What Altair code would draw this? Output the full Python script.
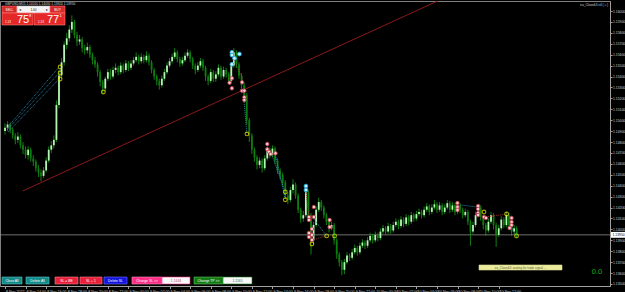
import json
import altair as alt
import pandas as pd

# ---------------- data ----------------
# GBPUSD M15 candles from 8 Nov 2022 12:00, prices in pips above 1.1300
BASE = 1.1300
first_open_pips = 190
close_pips = [193,196,191,186,182,185,177,173,168,173,
              165,162,156,152,149,154,163,173,177,182,
              214,241,253,269,275,283,290,278,272,274,
              266,264,267,260,255,251,244,235,229,238,
              244,240,246,248,244,250,246,252,248,252,
              255,258,254,258,255,259,253,246,240,236,
              232,238,244,250,254,258,262,256,252,255,
              259,262,256,250,246,250,254,248,240,236,
              244,238,242,248,240,246,242,236,250,262,
              251,241,232,223,200,186,173,166,159,163,
              156,165,173,168,174,163,154,150,143,131,
              127,136,141,131,118,110,113,134,113,90,
              104,118,125,120,113,107,101,104,90,77,
              70,63,70,76,74,79,83,79,85,88,
              85,90,94,90,95,92,98,101,98,103,
              99,104,107,103,109,105,111,107,113,110,
              114,116,113,118,121,116,120,123,118,122,
              116,120,124,118,122,116,122,118,113,116,
              107,98,104,113,120,111,104,99,107,113,
              104,95,101,109,104,113,104,98,101,95]
high_pips = [197,199,198,193,188,189,187,180,176,176,
             175,168,164,159,155,157,166,176,181,186,
             218,246,257,272,280,287,296,292,281,278,
             276,269,271,269,262,258,253,246,237,240,
             247,247,249,252,250,253,252,255,254,255,
             258,262,260,261,260,263,261,255,248,242,
             238,241,247,253,257,261,266,264,258,258,
             262,265,264,258,252,253,257,256,250,242,
             247,246,245,251,250,249,248,244,253,266,
             264,253,243,234,225,202,188,175,168,166,
             165,168,176,175,177,176,165,156,152,145,
             134,139,146,143,133,120,117,137,136,115,
             107,121,129,127,122,115,109,107,106,92,
             79,72,73,79,78,82,86,85,88,91,
             90,93,97,96,98,97,101,104,103,106,
             105,107,110,109,112,111,114,113,116,115,
             117,119,118,121,124,123,123,127,125,125,
             124,123,127,126,125,124,125,124,120,119,
             118,109,107,116,123,122,113,106,110,116,
             115,106,104,112,111,116,115,106,104,103]
low_pips = [187,190,188,183,178,179,174,169,165,164,
            162,158,153,148,144,147,152,161,170,174,
            180,211,238,250,265,272,280,275,268,269,
            262,260,261,257,251,248,240,231,224,226,
            236,237,238,243,241,242,243,244,245,246,
            250,253,251,252,252,253,250,243,237,232,
            228,230,236,242,248,252,256,253,249,250,
            253,257,253,247,242,244,248,245,236,232,
            234,235,235,240,237,238,239,233,234,248,
            248,238,229,219,196,180,169,162,155,156,
            152,154,163,165,166,160,151,146,140,128,
            123,125,133,128,115,106,107,111,110,77,
            86,102,116,117,110,104,97,99,86,73,
            66,58,59,68,71,72,77,76,77,83,
            82,83,88,87,88,89,90,96,95,96,
            96,97,102,100,101,102,103,104,105,107,
            108,112,110,111,116,113,114,118,115,116,
            113,114,118,115,116,113,114,115,110,111,
            104,85,96,102,111,108,100,94,97,105,
            100,84,93,99,101,102,100,94,96,92]

time_ticks = [0,2,4,6,8,10,12,14,16,18,20,22,24,26,28,30,32,34,36,38,40,42,44,46,48]
time_labels = ['8 Nov 2022','8 Nov 14:00','8 Nov 16:00','8 Nov 18:00','8 Nov 20:00',
               '8 Nov 22:00','9 Nov 00:00','9 Nov 02:00','9 Nov 04:00','9 Nov 06:00',
               '9 Nov 08:00','9 Nov 10:00','9 Nov 12:00','9 Nov 14:00','9 Nov 16:00',
               '9 Nov 18:00','9 Nov 20:00','9 Nov 22:00','10 Nov 00:00','10 Nov 02:00',
               '10 Nov 04:00','10 Nov 06:00','10 Nov 08:00','10 Nov 10:00','10 Nov 12:00']
price_ticks = [1.1600,1.1590,1.1580,1.1570,1.1560,1.1550,1.1540,1.1530,1.1520,
               1.1510,1.1500,1.1490,1.1480,1.1470,1.1460,1.1450,1.1440,1.1430,
               1.1420,1.1410,1.1400,1.1390,1.1380,1.1370,1.1360,1.1350]
bid_price = 1.13950

# indicator markers (hours from 8 Nov 12:00, price)
yellow_h = [5.36, 5.36, 5.36, 9.56, 23.52, 27.25, 27.25, 31.27, 32.04, 29.84, 46.57, 48.77, 49.73]
yellow_p = [1.15487, 1.15432, 1.15377, 1.15258, 1.14874, 1.14342, 1.14271, 1.13940, 1.13940,
            1.13866, 1.14159, 1.14141, 1.13940]
cyan_h = [22.06, 22.06, 22.31, 22.79, 22.06, 29.26, 29.26]
cyan_p = [1.15622, 1.15597, 1.15567, 1.15606, 1.15512, 1.14397, 1.14361]
pink_h = [22.06, 21.83, 22.06, 23.05, 23.05, 23.27, 23.27, 23.27,
          25.50, 25.50, 25.66, 25.82, 26.30,
          30.03, 29.55, 29.55, 30.03, 31.56, 31.56, 29.84, 29.55, 29.84, 29.55, 29.84,
          43.99, 43.99, 43.99, 46.00, 46.00, 46.00, 46.00, 46.57, 46.76,
          49.25, 49.25, 49.25, 49.06]
pink_p = [1.15384, 1.15343, 1.15292, 1.15347, 1.15270, 1.15270, 1.15210, 1.15185,
          1.14782, 1.14733, 1.14711, 1.14690, 1.14697,
          1.14205, 1.14113, 1.14086, 1.14113, 1.14086, 1.14022, 1.14004, 1.13967, 1.13949,
          1.13931, 1.13903,
          1.14242, 1.14205, 1.14178, 1.14214, 1.14187, 1.14150, 1.14132, 1.14113, 1.14104,
          1.14104, 1.14068, 1.14040, 1.14013]
# dotted indicator lines: cyan ones and dark-red ones
cyan_seg_h1 = [0.19, 0.19, 0.29, 23.24, 25.92, 26.30, 30.03, 44.28, 49.25]
cyan_seg_p1 = [1.14929, 1.14910, 1.14892, 1.15167, 1.14690, 1.14681, 1.14095, 1.14223, 1.14013]
cyan_seg_h2 = [5.26, 5.26, 5.26, 23.52, 27.25, 27.25, 31.27, 46.00, 49.73]
cyan_seg_p2 = [1.15487, 1.15432, 1.15377, 1.14874, 1.14342, 1.14278, 1.13940, 1.14205, 1.13940]
red_seg_h1 = [22.28, 29.26, 29.84, 46.76]
red_seg_p1 = [1.15551, 1.14352, 1.13903, 1.14113]
red_seg_h2 = [23.14, 29.55, 31.27, 48.77]
red_seg_p2 = [1.15368, 1.14113, 1.13940, 1.14141]
trend_h = [1.72, 58.33]
trend_p = [1.14352, 1.16793]

# ---------------- tables ----------------
opens = [first_open_pips] + close_pips[:-1]
candles = pd.DataFrame({
    'h': [i * 0.25 for i in range(len(close_pips))],
    'o': [BASE + v / 10000 for v in opens],
    'c': [BASE + v / 10000 for v in close_pips],
    'hi': [BASE + v / 10000 for v in high_pips],
    'lo': [BASE + v / 10000 for v in low_pips],
})
up = candles[candles['c'] >= candles['o']]
down = candles[candles['c'] < candles['o']]

FONT = 'Liberation Sans'
xs = alt.Scale(domain=[0, 58.334], nice=False, zero=False)
ys = alt.Scale(domain=[1.134815, 1.160916], nice=False, zero=False)
label_arr = json.dumps(time_labels).replace('"', "'")
xaxis = alt.Axis(values=time_ticks, labelExpr=f"{label_arr}[round(datum.value/2)]",
                 title=None, grid=False, labelAlign='left', labelBaseline='top',
                 labelFontSize=3.6, labelFont=FONT, labelColor='#d0d0d0', labelPadding=0.5,
                 labelOffset=0.5, tickSize=2.5, tickColor='#a0a0a0', domainColor='#a0a0a0',
                 labelOverlap=False, labelFlush=False, labelBound=False)
yaxis = alt.Axis(orient='right', values=price_ticks, format='.5f', title=None, grid=False,
                 labelFontSize=3.4, labelFont=FONT, labelColor='#d0d0d0', labelPadding=0.5,
                 tickSize=2, tickColor='#a0a0a0', domainColor='#a0a0a0',
                 labelOverlap=False, labelFlush=False, labelBound=False)


def X(f):
    return alt.X(f, type='quantitative', scale=xs, axis=xaxis)


def Y(f):
    return alt.Y(f, type='quantitative', scale=ys, axis=yaxis)


one = pd.DataFrame({'k': [0]})


def box(x0, x1, y0, y1, fill, stroke=None, sw=0.6):
    return alt.Chart(one).mark_rect(fill=fill, stroke=stroke or fill, strokeWidth=sw).encode(
        x=alt.value(x0), x2=alt.value(x1), y=alt.value(y0), y2=alt.value(y1))


def label(x, y, text, size, color, align='center', weight='normal'):
    return alt.Chart(one).mark_text(text=text, fontSize=size, color=color, align=align,
                                    baseline='middle', font=FONT, fontWeight=weight).encode(
        x=alt.value(x), y=alt.value(y))


def segments(h1, p1, h2, p2, color):
    df = pd.DataFrame({'h1': h1, 'p1': p1, 'h2': h2, 'p2': p2})
    return alt.Chart(df).mark_rule(strokeDash=[1, 1], strokeWidth=0.9, color=color).encode(
        x=X('h1'), x2='h2', y=Y('p1'), y2='p2')


layers = []
# bid line
layers.append(alt.Chart(pd.DataFrame({'p': [bid_price]})).mark_rule(
    color='#8a8a8a', strokeWidth=0.8).encode(y=Y('p')))
# trend line
layers.append(alt.Chart(pd.DataFrame({'h1': [trend_h[0]], 'h2': [trend_h[1]],
                                      'p1': [trend_p[0]], 'p2': [trend_p[1]]})).mark_rule(
    clip=True, color='#9b1c1c', strokeWidth=0.9).encode(x=X('h1'), x2='h2', y=Y('p1'), y2='p2'))
# candles
layers.append(alt.Chart(candles).mark_rule(color='#16a016', strokeWidth=0.8).encode(
    x=X('h'), y=Y('lo'), y2='hi'))
layers.append(alt.Chart(up).mark_bar(size=1.8, color='#b4f5b4').encode(x=X('h'), y=Y('o'), y2='c'))
layers.append(alt.Chart(down).mark_bar(size=1.8, color='#0d7d0d').encode(x=X('h'), y=Y('o'), y2='c'))
# dotted lines
layers.append(segments(cyan_seg_h1, cyan_seg_p1, cyan_seg_h2, cyan_seg_p2, '#2f8fb8'))
layers.append(segments(red_seg_h1, red_seg_p1, red_seg_h2, red_seg_p2, '#a83838'))
# markers
layers.append(alt.Chart(pd.DataFrame({'h': yellow_h, 'p': yellow_p})).mark_point(
    shape='circle', filled=False, color='#f0f000', size=14, strokeWidth=1.1).encode(x=X('h'), y=Y('p')))
layers.append(alt.Chart(pd.DataFrame({'h': cyan_h, 'p': cyan_p})).mark_point(
    shape='circle', filled=True, fill='#c8f4ff', stroke='#2aa8e0', size=14, strokeWidth=1,
    opacity=1).encode(x=X('h'), y=Y('p')))
layers.append(alt.Chart(pd.DataFrame({'h': pink_h, 'p': pink_p})).mark_point(
    shape='circle', filled=True, fill='#f8d0d4', stroke='#c04050', size=12, strokeWidth=0.9,
    opacity=1).encode(x=X('h'), y=Y('p')))

# bid label on the price axis
layers.append(alt.Chart(one).mark_rect(fill='white').encode(
    x=alt.value(611), x2=alt.value(625), y=alt.Y(datum=bid_price + 0.00027, scale=ys, axis=yaxis),
    y2=alt.Y2(datum=bid_price - 0.00027)))
layers.append(alt.Chart(one).mark_text(text=f'{bid_price:.5f}', fontSize=3.4, color='black',
                                       align='left', baseline='middle', font=FONT).encode(
    x=alt.value(612.5), y=alt.Y(datum=bid_price, scale=ys, axis=yaxis)))

# header texts
layers.append(label(5, 2.5, 'GBPUSD,M15  1.14010 1.14030 1.13920 1.13950', 3.2, '#d8d8d8', align='left'))
layers.append(label(608, 4, 'ea_Close&3 v4 (☺)', 3.2, '#d0d0d0', align='right'))

# one-click trading panel
layers += [box(2, 17, 5, 12, '#d42c2c', '#ff7070'), label(9.5, 8.5, 'SELL', 3.2, 'white'),
           box(17, 50, 5, 12, '#f4f4f4', '#c0c0c0'), label(20, 8.5, '◂', 3.5, '#404040'),
           label(33.5, 8.5, '1.00', 3.2, '#202020'), label(47, 8.5, '▸', 3.5, '#404040'),
           box(50, 65, 5, 12, '#d42c2c', '#ff7070'), label(57.5, 8.5, 'BUY', 3.2, 'white'),
           box(2, 33, 12, 24, '#e42828', '#ff8080'), label(5, 20.5, '1.13', 3, 'white', align='left'),
           label(23, 18.5, '75', 11, 'white'), label(30, 14.5, '8', 4, 'white'),
           box(34, 65, 12, 24, '#e42828', '#ff8080'), label(38, 20.5, '1.13', 3, 'white', align='left'),
           label(53, 18.5, '77', 11, 'white'), label(60.5, 14.5, '1', 4, 'white')]

# bottom buttons
buttons = [('Close All', 2, 22, '#138a8a', '#5cc8c8', 'white'),
           ('Delete All', 26, 49, '#138a8a', '#5cc8c8', 'white'),
           ('SL = BE', 55, 78, '#e8203a', '#ff8090', 'white'),
           ('SL + 1', 80, 102, '#e8203a', '#ff8090', 'white'),
           ('Delete SL', 104, 127, '#1414e0', '#7070ff', 'white'),
           ('Change SL >>', 132, 162, '#ff2d86', '#ff90c0', 'white'),
           ('1.1444', 162, 190, '#f8f8f8', '#ff2d86', '#b05070'),
           ('Change TP >>', 194, 223, '#157a15', '#60c060', 'white'),
           ('1.1165', 223, 252, '#f8f8f8', '#157a15', '#407040')]
for t, x0, x1, fill, stroke, tc in buttons:
    layers += [box(x0, x1, 276, 283, fill, stroke), label((x0 + x1) / 2, 279.5, t, 3.4, tc)]

# status label and EA value
layers += [box(479, 562, 264, 269, '#ecec9c', '#d8d890'),
           label(520.5, 266.5, 'ea_Close&3: waiting for trade signal ...', 3, '#606040')]
layers.append(label(597, 271, '0.0', 7.5, '#10b010'))

chart = alt.layer(*layers).properties(
    width=610, height=285,
    autosize=alt.AutoSizeParams(type='none'),
    padding={'left': 0, 'top': 1, 'right': 15, 'bottom': 6},
    background='black',
).configure_view(stroke='#808080', strokeWidth=1)

chart.save('out.html', embed_options={'renderer': 'svg', 'actions': False})
